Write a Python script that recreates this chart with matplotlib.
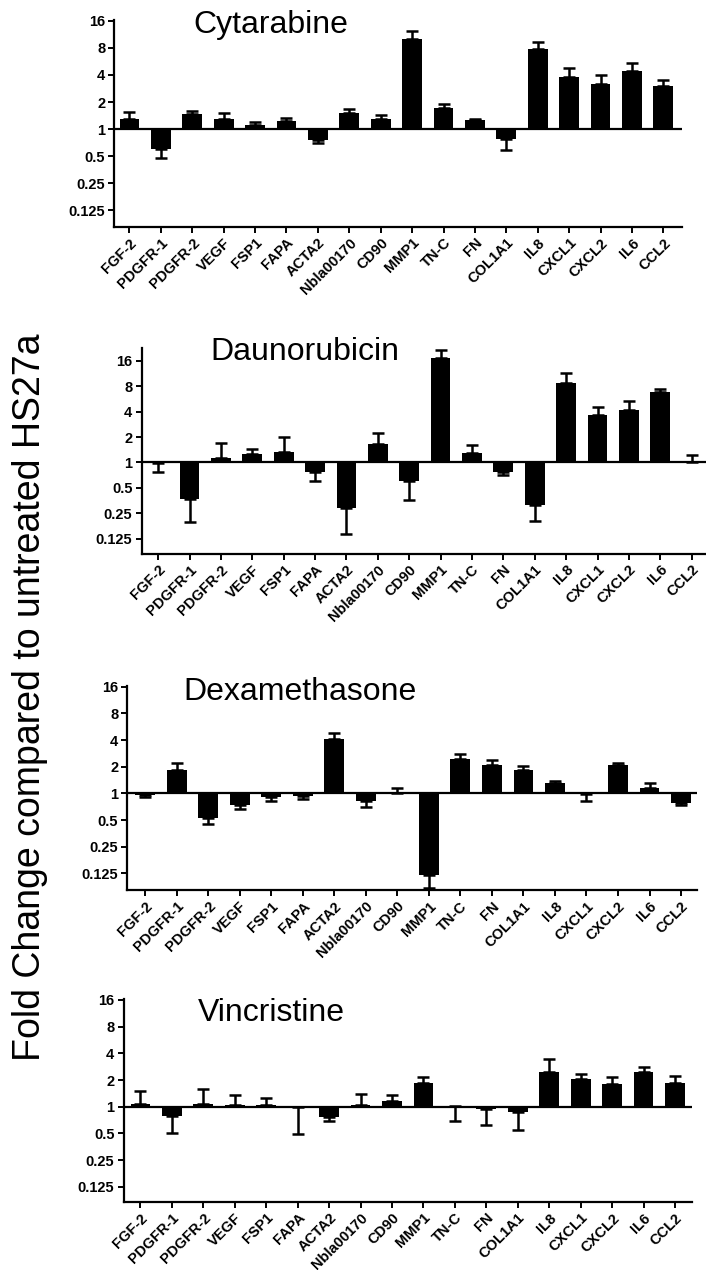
import matplotlib
matplotlib.use("Agg")
import matplotlib.pyplot as plt
import numpy as np

plt.rcParams['font.family'] = ['Liberation Sans', 'DejaVu Sans']

genes = ["FGF-2", "PDGFR-1", "PDGFR-2", "VEGF", "FSP1", "FAPA", "ACTA2",
         "Nbla00170", "CD90", "MMP1", "TN-C", "FN", "COL1A1", "IL8",
         "CXCL1", "CXCL2", "IL6", "CCL2"]

# fold change (bar end) and error-bar tip for each treatment
cytarabine = [1.28, 0.60, 1.46, 1.29, 1.10, 1.22, 0.75, 1.50, 1.31, 10.0,
              1.72, 1.25, 0.78, 7.78, 3.81, 3.16, 4.45, 3.05]
cytarabine_err = [1.56, 0.48, 1.60, 1.50, 1.21, 1.32, 0.69, 1.69, 1.45, 12.3,
                  1.92, 1.31, 0.59, 9.24, 4.81, 3.98, 5.47, 3.53]

daunorubicin = [0.99, 0.37, 1.13, 1.25, 1.34, 0.78, 0.285, 1.65, 0.61, 17.4,
                1.28, 0.775, 0.31, 8.77, 3.70, 4.20, 6.80, 1.01]
daunorubicin_err = [0.78, 0.196, 1.69, 1.43, 2.00, 0.61, 0.142, 2.25, 0.36, 21.8,
                    1.63, 0.70, 0.20, 11.6, 4.60, 5.30, 7.50, 1.21]

dexamethasone = [0.96, 1.82, 0.53, 0.745, 0.91, 0.93, 4.10, 0.83, 1.01, 0.121,
                 2.46, 2.09, 1.82, 1.30, 0.98, 2.07, 1.15, 0.78]
dexamethasone_err = [0.90, 2.22, 0.45, 0.66, 0.81, 0.855, 4.84, 0.71, 1.16, 0.085,
                     2.80, 2.38, 2.02, 1.38, 0.83, 2.22, 1.30, 0.74]

vincristine = [1.07, 0.78, 1.07, 1.04, 1.06, 0.99, 0.76, 1.06, 1.15, 1.87,
               1.01, 0.94, 0.88, 2.48, 2.04, 1.82, 2.44, 1.83]
vincristine_err = [1.49, 0.51, 1.57, 1.35, 1.25, 0.49, 0.69, 1.41, 1.35, 2.18,
                   0.69, 0.63, 0.55, 3.45, 2.36, 2.18, 2.78, 2.22]

titles = ["Cytarabine", "Daunorubicin", "Dexamethasone", "Vincristine"]
series = [(cytarabine, cytarabine_err), (daunorubicin, daunorubicin_err),
          (dexamethasone, dexamethasone_err), (vincristine, vincristine_err)]

ytick_vals = [0.125, 0.25, 0.5, 1, 2, 4, 8, 16]
ytick_text = ["0.125", "0.25", "0.5", "1", "2", "4", "8", "16"]

W, H = 706, 1270
fig = plt.figure(figsize=(W / 100, H / 100), dpi=100)

# panel frames in pixels: left, right, top, bottom ; axis limits
frames = [
    dict(l=114.4, r=682.2, t=20.0, b=226.7, xlim=(-0.48, 17.6), ylim=(0.0816, 16.4),
         title_xy=(193, 33)),
    dict(l=141.5, r=710.5, t=348.3, b=553.5, xlim=(-0.53, 17.6), ylim=(0.083, 22.6),
         title_xy=(210, 360)),
    dict(l=127.4, r=696.8, t=686.0, b=890.0, xlim=(-0.565, 17.5), ylim=(0.081, 16.3),
         title_xy=(183, 700)),
    dict(l=123.5, r=692.0, t=999.0, b=1201.7, xlim=(-0.54, 17.54), ylim=(0.085, 16.4),
         title_xy=(198, 1021)),
]

x = np.arange(len(genes))
for fr, title, (vals, tips) in zip(frames, titles, series):
    ax = fig.add_axes([fr['l'] / W, 1 - fr['b'] / H,
                       (fr['r'] - fr['l']) / W, (fr['b'] - fr['t']) / H])
    ax.set_yscale('log', base=2)
    vals = np.asarray(vals)
    tips = np.asarray(tips)
    ax.bar(x, vals - 1, bottom=1, width=0.63, color='black', zorder=2)
    lower = np.where(tips < vals, vals - tips, 0)
    upper = np.where(tips > vals, tips - vals, 0)
    ax.errorbar(x, vals, yerr=[lower, upper], fmt='none', ecolor='black',
                elinewidth=1.8, capsize=4.2, capthick=1.8, zorder=1)
    ax.axhline(1, color='black', lw=1.6, zorder=3)
    ax.set_xlim(*fr['xlim'])
    ax.set_ylim(*fr['ylim'])
    ax.set_yticks(ytick_vals)
    ax.set_yticklabels(ytick_text)
    ax.yaxis.set_minor_locator(matplotlib.ticker.NullLocator())
    ax.set_xticks(x)
    ax.set_xticklabels(genes, rotation=45, ha='right', rotation_mode='anchor')
    for spine in ('top', 'right'):
        ax.spines[spine].set_visible(False)
    for spine in ('left', 'bottom'):
        ax.spines[spine].set_linewidth(1.6)
    ax.tick_params(axis='both', width=1.4, length=4.5, pad=2)
    ax.tick_params(axis='y', labelsize=10.5)
    ax.tick_params(axis='x', labelsize=10.5)
    for lab in ax.get_xticklabels() + ax.get_yticklabels():
        lab.set_fontweight('bold')
    fig.text(fr['title_xy'][0] / W, 1 - fr['title_xy'][1] / H, title,
             fontsize=23, va='baseline', ha='left')

fig.text(30 / W, 1 - 697 / H, "Fold Change compared to untreated HS27a",
         rotation=90, fontsize=27, va='center', ha='center')

fig.savefig("out.png", dpi=100)
